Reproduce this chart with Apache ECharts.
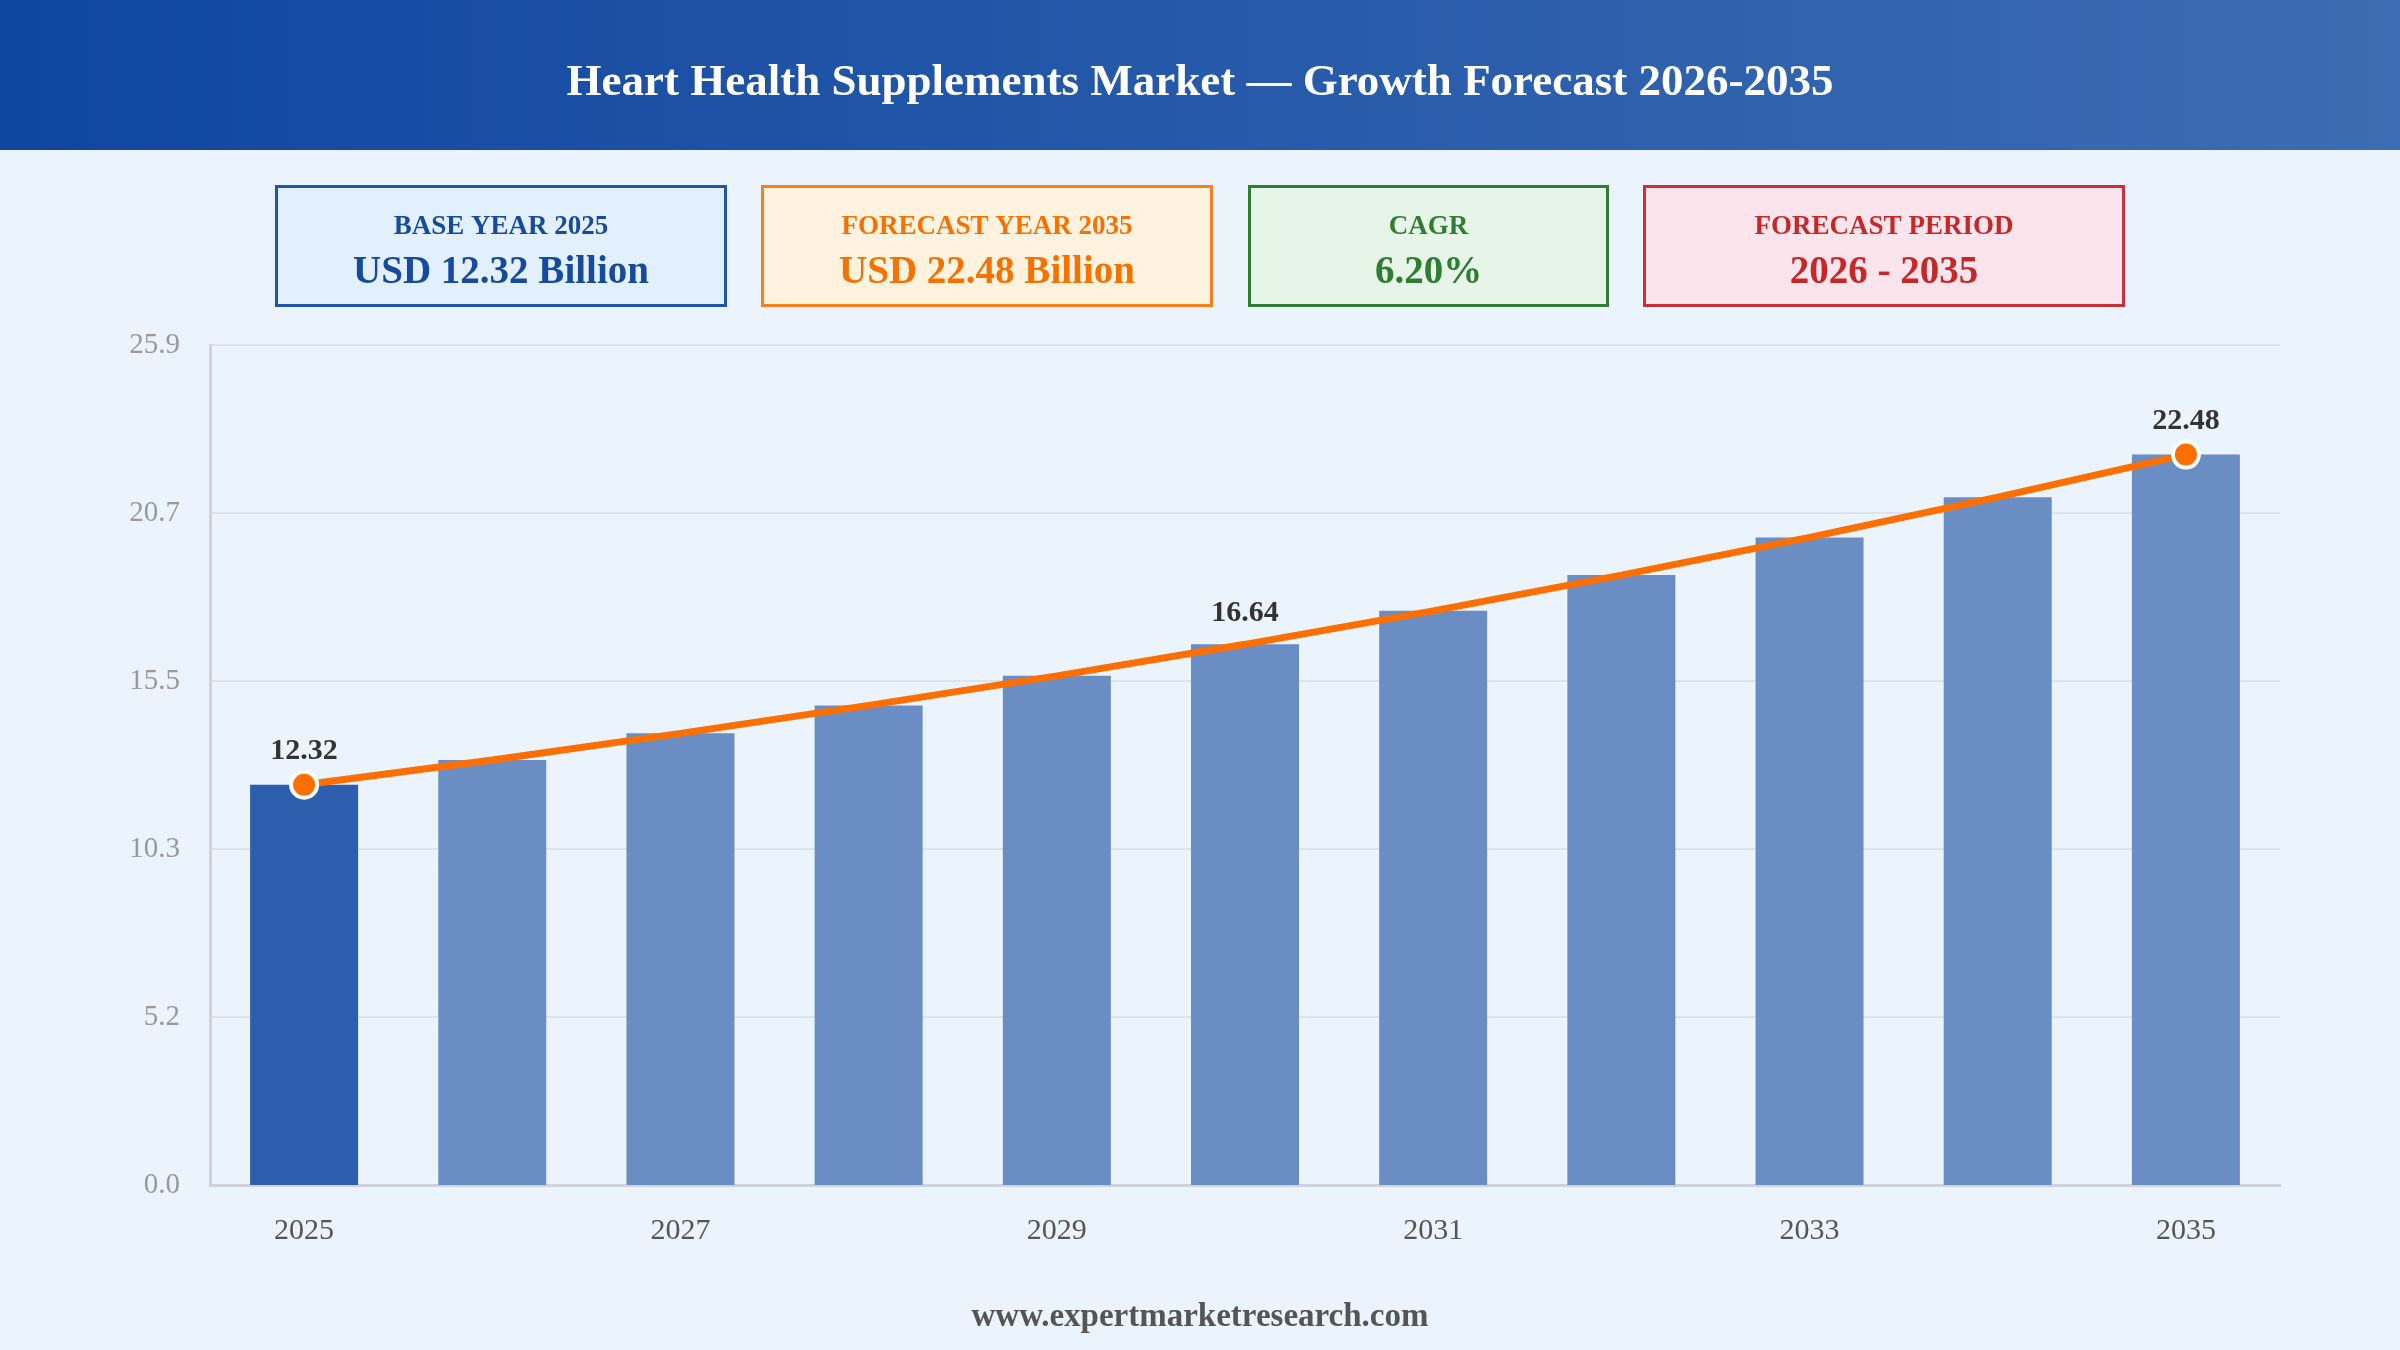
<!DOCTYPE html>
<html>
<head>
<meta charset="utf-8">
<script src="https://cdn.jsdelivr.net/npm/echarts@6/dist/echarts.min.js"></script>
<style>
html,body{margin:0;padding:0;background:#ebf3fc;}
#chart{width:2400px;height:1350px;}
</style>
</head>
<body>
<div id="chart"></div>
<script>
const titleText = 'Heart Health Supplements Market \u2014 Growth Forecast 2026-2035';
const years = ['2025','2026','2027','2028','2029','2030','2031','2032','2033','2034','2035'];
const marketValues = [12.32, 13.08, 13.90, 14.76, 15.67, 16.64, 17.67, 18.77, 19.93, 21.17, 22.48];
const labelledIndices = [0, 5, 10];
const dottedIndices = [0, 10];
const yMax = 25.852;
const yStep = 5.1704;
const cardLabels = ['BASE YEAR 2025', 'FORECAST YEAR 2035', 'CAGR', 'FORECAST PERIOD'];
const cardValues = ['USD 12.32 Billion', 'USD 22.48 Billion', '6.20%', '2026 - 2035'];
const footerText = 'www.expertmarketresearch.com';

const FONT = '"Liberation Serif", "Times New Roman", serif';
const cardStyles = [
  {x:275, w:452, border:'#1f56a8', bg:'#e2f0fd', text:'#174a9c'},
  {x:761, w:452, border:'#f5801e', bg:'#fff2df', text:'#f57200'},
  {x:1248, w:361, border:'#2f7d35', bg:'#e7f5e8', text:'#2e7d32'},
  {x:1643, w:482, border:'#c8303a', bg:'#fce4ec', text:'#c62828'}
];

const graphics = [
  {type:'rect', left:0, top:0, z:0, shape:{width:2400, height:150},
   style:{fill:new echarts.graphic.LinearGradient(0,0,1,0,[{offset:0,color:'#0f46a0'},{offset:1,color:'#3c6cb2'}])}},
  {type:'text', x:1200, y:83, z:2, style:{text:titleText, fill:'#ffffff', font:'bold 45px ' + FONT, align:'center', verticalAlign:'middle'}},
  {type:'text', x:1200, y:1317, z:2, style:{text:footerText, fill:'#555555', font:'bold 33px ' + FONT, align:'center', verticalAlign:'middle'}}
];
cardStyles.forEach((c, i) => {
  graphics.push({type:'rect', z:1, shape:{x:c.x+1.5, y:186.5, width:c.w-3, height:119},
    style:{fill:c.bg, stroke:c.border, lineWidth:3}});
  graphics.push({type:'text', z:2, x:c.x + c.w/2, y:227, style:{text:cardLabels[i], fill:c.text, font:'bold 27px ' + FONT, align:'center', verticalAlign:'middle'}});
  graphics.push({type:'text', z:2, x:c.x + c.w/2, y:273, style:{text:cardValues[i], fill:c.text, font:'bold 39px ' + FONT, align:'center', verticalAlign:'middle'}});
});

const barData = marketValues.map((v, i) => ({
  value: v,
  itemStyle: {color: i === 0 ? '#2d5fae' : '#6a8ec4'}
}));
const lineData = marketValues.map((v, i) => {
  const item = {value: v};
  if (dottedIndices.indexOf(i) < 0) {
    item.itemStyle = {color:'rgba(0,0,0,0)', borderColor:'rgba(0,0,0,0)', borderWidth:0};
  }
  if (labelledIndices.indexOf(i) >= 0) {
    item.label = {show:true};
  }
  return item;
});

const chart = echarts.init(document.getElementById('chart'));
chart.setOption({
  backgroundColor:'#ebf3fc',
  animation:false,
  graphic: graphics,
  grid:{left:210, right:120, top:345, bottom:165, containLabel:false},
  xAxis:{
    type:'category', data:years, boundaryGap:true,
    axisLine:{show:true, lineStyle:{color:'#cfd3d9', width:3}},
    axisTick:{show:false},
    axisLabel:{interval:1, color:'#555555', fontFamily:FONT, fontSize:30, margin:31}
  },
  yAxis:{
    type:'value', min:0, max:yMax, interval:yStep,
    axisLine:{show:true, lineStyle:{color:'#cfd3d9', width:3}},
    axisTick:{show:false},
    axisLabel:{color:'#999999', fontFamily:FONT, fontSize:29, margin:30, padding:[5,0,0,0], formatter:v => v.toFixed(1)},
    splitLine:{show:true, lineStyle:{color:'#dde3eb', width:2}}
  },
  series:[
    {type:'bar', data:barData, barWidth:108, z:2},
    {type:'line', data:lineData, z:3, smooth:false,
     symbol:'circle', symbolSize:26, showSymbol:true,
     lineStyle:{color:'#ff6f00', width:7},
     itemStyle:{color:'#ff6f00', borderColor:'#ffffff', borderWidth:4},
     label:{show:false, position:'top', distance:3, color:'#333333', fontFamily:FONT, fontWeight:'bold', fontSize:30},
     emphasis:{disabled:true}}
  ]
});
</script>
</body>
</html>
